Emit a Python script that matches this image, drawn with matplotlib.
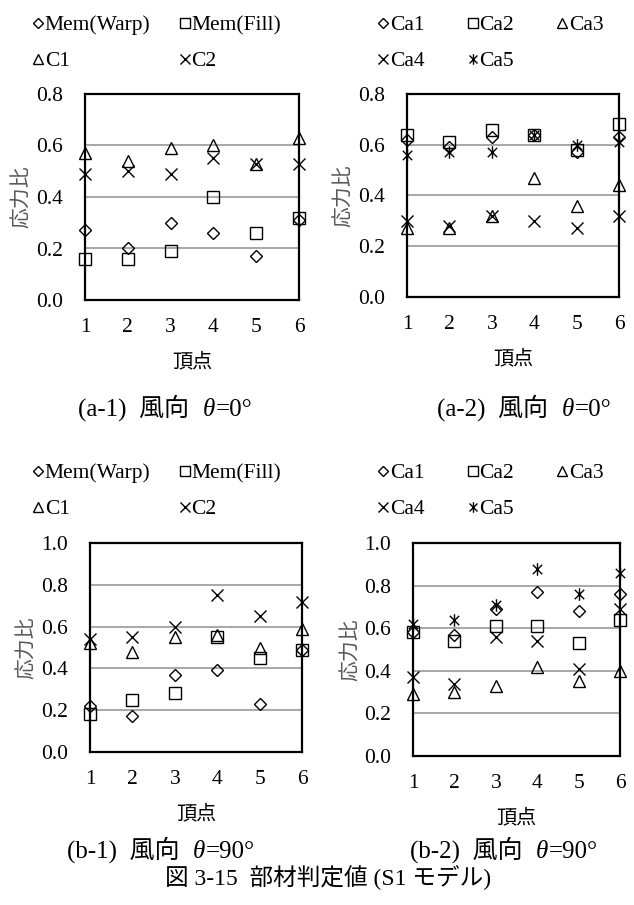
import matplotlib
matplotlib.use('Agg')
import matplotlib.pyplot as plt
from matplotlib.path import Path
import numpy as np

plt.rcParams['font.family'] = ['Liberation Serif', 'Noto Sans CJK JP']

# データ -------------------------------
vertices = [1, 2, 3, 4, 5, 6]

# (a-1) 風向 0°
a1_warp = [0.27, 0.20, 0.30, 0.26, 0.17, 0.31]
a1_fill = [0.16, 0.16, 0.19, 0.40, 0.26, 0.32]
a1_c1 = [0.57, 0.54, 0.59, 0.60, 0.53, 0.63]
a1_c2 = [0.49, 0.50, 0.49, 0.55, 0.53, 0.53]

# (a-2) 風向 0°
a2_ca1 = [0.62, 0.59, 0.63, 0.64, 0.57, 0.63]
a2_ca2 = [0.64, 0.61, 0.66, 0.64, 0.58, 0.68]
a2_ca3 = [0.27, 0.27, 0.32, 0.47, 0.36, 0.44]
a2_ca4 = [0.30, 0.28, 0.32, 0.30, 0.27, 0.32]
a2_ca5 = [0.56, 0.57, 0.57, 0.64, 0.60, 0.61]

# (b-1) 風向 90°
b1_warp = [0.22, 0.17, 0.37, 0.39, 0.23, 0.49]
b1_fill = [0.18, 0.25, 0.28, 0.55, 0.45, 0.49]
b1_c1 = [0.52, 0.48, 0.55, 0.56, 0.50, 0.59]
b1_c2 = [0.54, 0.55, 0.60, 0.75, 0.65, 0.72]

# (b-2) 風向 90°
b2_ca1 = [0.58, 0.57, 0.69, 0.77, 0.68, 0.76]
b2_ca2 = [0.58, 0.54, 0.61, 0.61, 0.53, 0.64]
b2_ca3 = [0.29, 0.30, 0.33, 0.42, 0.35, 0.40]
b2_ca4 = [0.37, 0.34, 0.56, 0.54, 0.41, 0.69]
b2_ca5 = [0.62, 0.64, 0.71, 0.88, 0.76, 0.86]

mem_labels = ['Mem(Warp)', 'Mem(Fill)', 'C1', 'C2']
ca_labels = ['Ca1', 'Ca2', 'Ca3', 'Ca4', 'Ca5']

# 縦棒 + × のアスタリスク
ast = Path([(0, -1), (0, 1), (-0.75, -0.75), (0.75, 0.75), (-0.75, 0.75), (0.75, -0.75)],
           [Path.MOVETO, Path.LINETO, Path.MOVETO, Path.LINETO, Path.MOVETO, Path.LINETO])

mk = {'D': 6.5, 's': 8, '^': 8, 'x': 8, 'ast': 9}

W, H = 634, 905
fig = plt.figure(figsize=(W / 100, H / 100), dpi=100)


def add_ax(l, r, t, b):
    return fig.add_axes([l / W, 1 - b / H, (r - l) / W, (b - t) / H])


def style(ax, ymax, hpx):
    ax.set_xlim(1, 6)
    ax.set_ylim(0, ymax)
    ax.set_xticks(vertices)
    ax.set_yticks(np.arange(0, ymax + 0.01, 0.2))
    ax.yaxis.set_major_formatter('{x:.1f}')
    ax.tick_params(length=0, labelsize=15.5)
    ax.tick_params(axis='y', pad=16)
    ax.tick_params(axis='x', pad=13)
    ax.grid(axis='y', color='#a0a0a0', lw=1.3)
    ax.set_axisbelow(True)
    for s in ax.spines.values():
        s.set_linewidth(1.6)
    ax.set_ylabel('応力比', color='#595959', fontsize=15)
    ax.yaxis.set_label_coords(-0.245, 0.5)
    ax.set_xlabel('頂点', fontsize=14.5)
    ax.xaxis.set_label_coords(0.5, -53 / hpx)


def pts(ax, y, m):
    if m == 'ast':
        return ax.plot(vertices, y, ls='none', marker=ast, ms=mk[m], mec='black',
                       mew=1.0, clip_on=False, zorder=3)[0]
    return ax.plot(vertices, y, ls='none', marker=m, ms=mk[m], mfc='none', mec='black',
                   mew=1.0, clip_on=False, zorder=3)[0]


def legend(ax, handles, labels, x, y, ncol, colsp):
    ax.legend(handles, labels, loc='upper left', bbox_to_anchor=(x / W, 1 - y / H),
              bbox_transform=fig.transFigure, ncol=ncol, frameon=False, fontsize=15.5,
              borderpad=0, borderaxespad=0, handlelength=0.5, handletextpad=0.05,
              columnspacing=colsp, labelspacing=0.74, markerscale=0.85)


# (a-1) -------------------------------
ax = add_ax(85, 299, 94, 300)
hs = [pts(ax, a1_warp, 'D'), pts(ax, a1_fill, 's'), pts(ax, a1_c1, '^'), pts(ax, a1_c2, 'x')]
style(ax, 0.8, 206)
legend(ax, [hs[0], hs[2], hs[1], hs[3]], [mem_labels[0], mem_labels[2], mem_labels[1], mem_labels[3]],
       33, 15, 2, 1.35)

# (a-2) -------------------------------
ax = add_ax(407, 619, 94, 297)
hs = [pts(ax, a2_ca1, 'D'), pts(ax, a2_ca2, 's'), pts(ax, a2_ca3, '^'),
      pts(ax, a2_ca4, 'x'), pts(ax, a2_ca5, 'ast')]
style(ax, 0.8, 203)
legend(ax, [hs[0], hs[3], hs[1], hs[4], hs[2]],
       [ca_labels[0], ca_labels[3], ca_labels[1], ca_labels[4], ca_labels[2]],
       378, 15, 3, 2.0)

# (b-1) -------------------------------
ax = add_ax(90, 302, 543, 752)
hs = [pts(ax, b1_warp, 'D'), pts(ax, b1_fill, 's'), pts(ax, b1_c1, '^'), pts(ax, b1_c2, 'x')]
style(ax, 1.0, 209)
legend(ax, [hs[0], hs[2], hs[1], hs[3]], [mem_labels[0], mem_labels[2], mem_labels[1], mem_labels[3]],
       33, 463, 2, 1.35)

# (b-2) -------------------------------
ax = add_ax(413, 620, 543, 756)
hs = [pts(ax, b2_ca1, 'D'), pts(ax, b2_ca2, 's'), pts(ax, b2_ca3, '^'),
      pts(ax, b2_ca4, 'x'), pts(ax, b2_ca5, 'ast')]
style(ax, 1.0, 213)
legend(ax, [hs[0], hs[3], hs[1], hs[4], hs[2]],
       [ca_labels[0], ca_labels[3], ca_labels[1], ca_labels[4], ca_labels[2]],
       378, 463, 3, 2.0)

# キャプション (θ だけ斜体なので分けて並べる)
renderer = fig.canvas.get_renderer()


def caption(x, y, tag, ang):
    parts = [(tag + '  風向  ', 'normal'), ('θ', 'italic'), ('=' + ang + '°', 'normal')]
    for s, st in parts:
        t = fig.text(x / W, 1 - y / H, s, ha='left', va='baseline', fontsize=18, style=st)
        x = t.get_window_extent(renderer).x1 + 1


caption(78, 416, '(a-1)', '0')
caption(437, 416, '(a-2)', '0')
caption(67, 858, '(b-1)', '90')
caption(410, 858, '(b-2)', '90')
fig.text(328 / W, 1 - 878 / H, '図 3-15  部材判定値 (S1 モデル)', ha='center', va='center', fontsize=17)

fig.savefig('out.png', dpi=100)
